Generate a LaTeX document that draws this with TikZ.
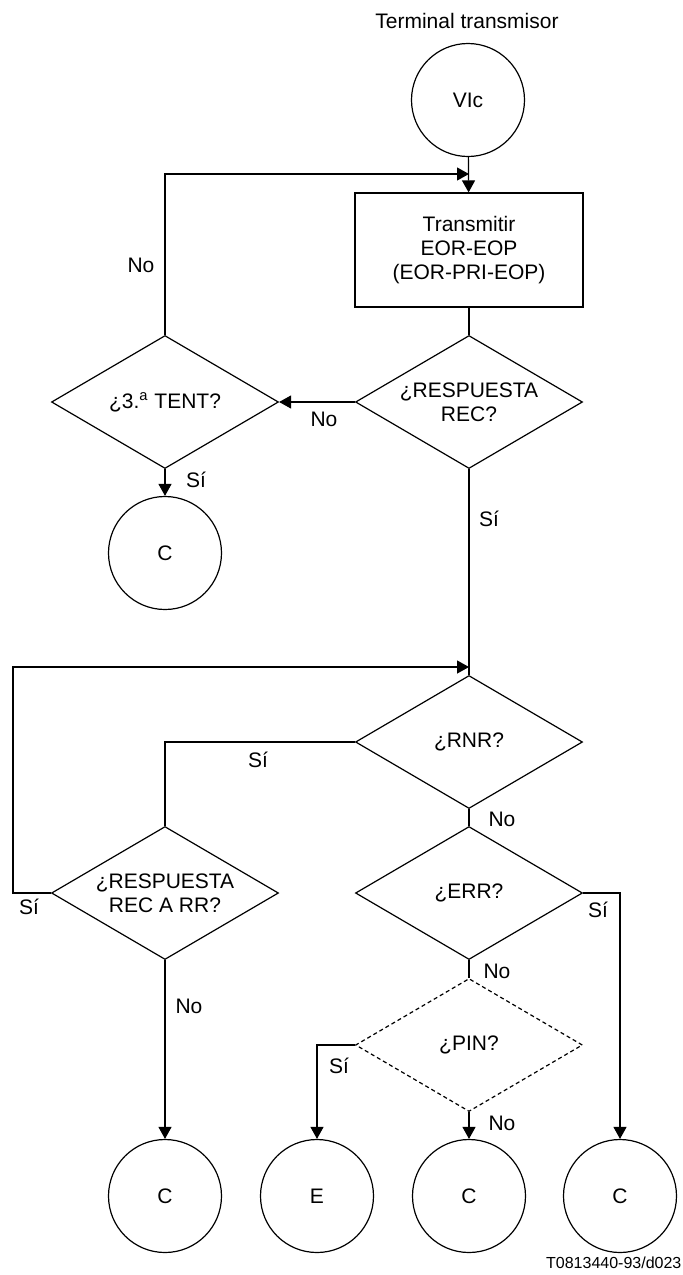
\documentclass[tikz,border=0pt]{standalone}
\usepackage{fontspec}
\setmainfont{Liberation Sans}
\usetikzlibrary{shapes.geometric,arrows.meta}
\begin{document}
\begin{tikzpicture}[x=0.5pt,y=-0.5pt,line width=0.6pt,
  font=\fontsize{10.5pt}{12pt}\selectfont,
  >={Triangle[length=6pt,width=6.5pt]},
  conn/.style={draw,circle,minimum size=56.5pt,inner sep=0pt},
  proc/.style={draw,rectangle,minimum width=114pt,minimum height=57pt,align=center,inner sep=2pt},
  decision/.style={draw,diamond,aspect=1.7,minimum width=113.5pt,minimum height=66.5pt,align=center,inner sep=0pt},
  lbl/.style={inner sep=0pt}]
\useasboundingbox (0,0) rectangle (683,1275);
\node(title) at (467,21) {Terminal transmisor};
%
\node[conn](vic) at (468,100) {VIc};
\node[proc](trans) at (469,250) {Transmitir\\EOR-EOP\\(EOR-PRI-EOP)};
\coordinate(j1) at (469,174);
\draw[->](vic) -- (trans) {};
%
\node[decision](resp) at (469,402) {¿RESPUESTA\\REC?};
\node[decision](tent) at (165,402) {¿3.\textsuperscript{a} TENT?};
\draw(trans) -- (resp) {};
\draw[->](resp.west) -- (tent.east) {};
\draw[->](tent.north) |- (j1) {};
\node[lbl](no1) at (324,419) {No};
\node[lbl](no2) at (141,265) {No};
%
\node[conn](c0) at (165,553) {C};
\draw[->](tent.south) -- (c0.north) {};
\node[lbl](si1) at (196,480) {Sí};
%
\node[decision](rnr) at (469,742) {¿RNR?};
\coordinate(j2) at (469,667);
\coordinate(k2) at (13,667);
\draw(resp.south) -- (rnr.north) {};
\node[lbl](si2) at (489,519) {Sí};
%
\node[decision](rr) at (165,893) {¿RESPUESTA\\REC A RR?};
\draw(rnr.west) -| (rr.north) {};
\draw[->](rr.west) -| (k2) -- (j2) {};
\node[lbl](si3) at (258,760) {Sí};
\node[lbl](si4) at (29,907) {Sí};
%
\node[decision](err) at (469,893) {¿ERR?};
\draw(rnr.south) -- (err.north) {};
\node[lbl](no3) at (502,819) {No};
%
\node[decision,dash pattern=on 2pt off 1.5pt](pin) at (469,1045) {¿PIN?};
\draw(err.south) -- (pin.north) {};
\node[lbl](no4) at (497,971) {No};
%
\node[conn](c1) at (165,1196) {C};
\node[conn](ce) at (317,1196) {E};
\node[conn](c3) at (469,1196) {C};
\node[conn](c4) at (620,1196) {C};
\draw[->](rr.south) -- (c1.north) {};
\draw[->](pin.west) -| (ce.north) {};
\draw[->](pin.south) -- (c3.north) {};
\draw[->](err.east) -| (c4.north) {};
\node[lbl](no5) at (189,1006) {No};
\node[lbl](si5) at (339,1066) {Sí};
\node[lbl](no6) at (502,1123) {No};
\node[lbl](si6) at (598,910) {Sí};
%
\node[lbl,anchor=east,font=\fontsize{8pt}{9pt}\selectfont](ref) at (682,1263) {T0813440-93/d023};
\end{tikzpicture}
\end{document}
